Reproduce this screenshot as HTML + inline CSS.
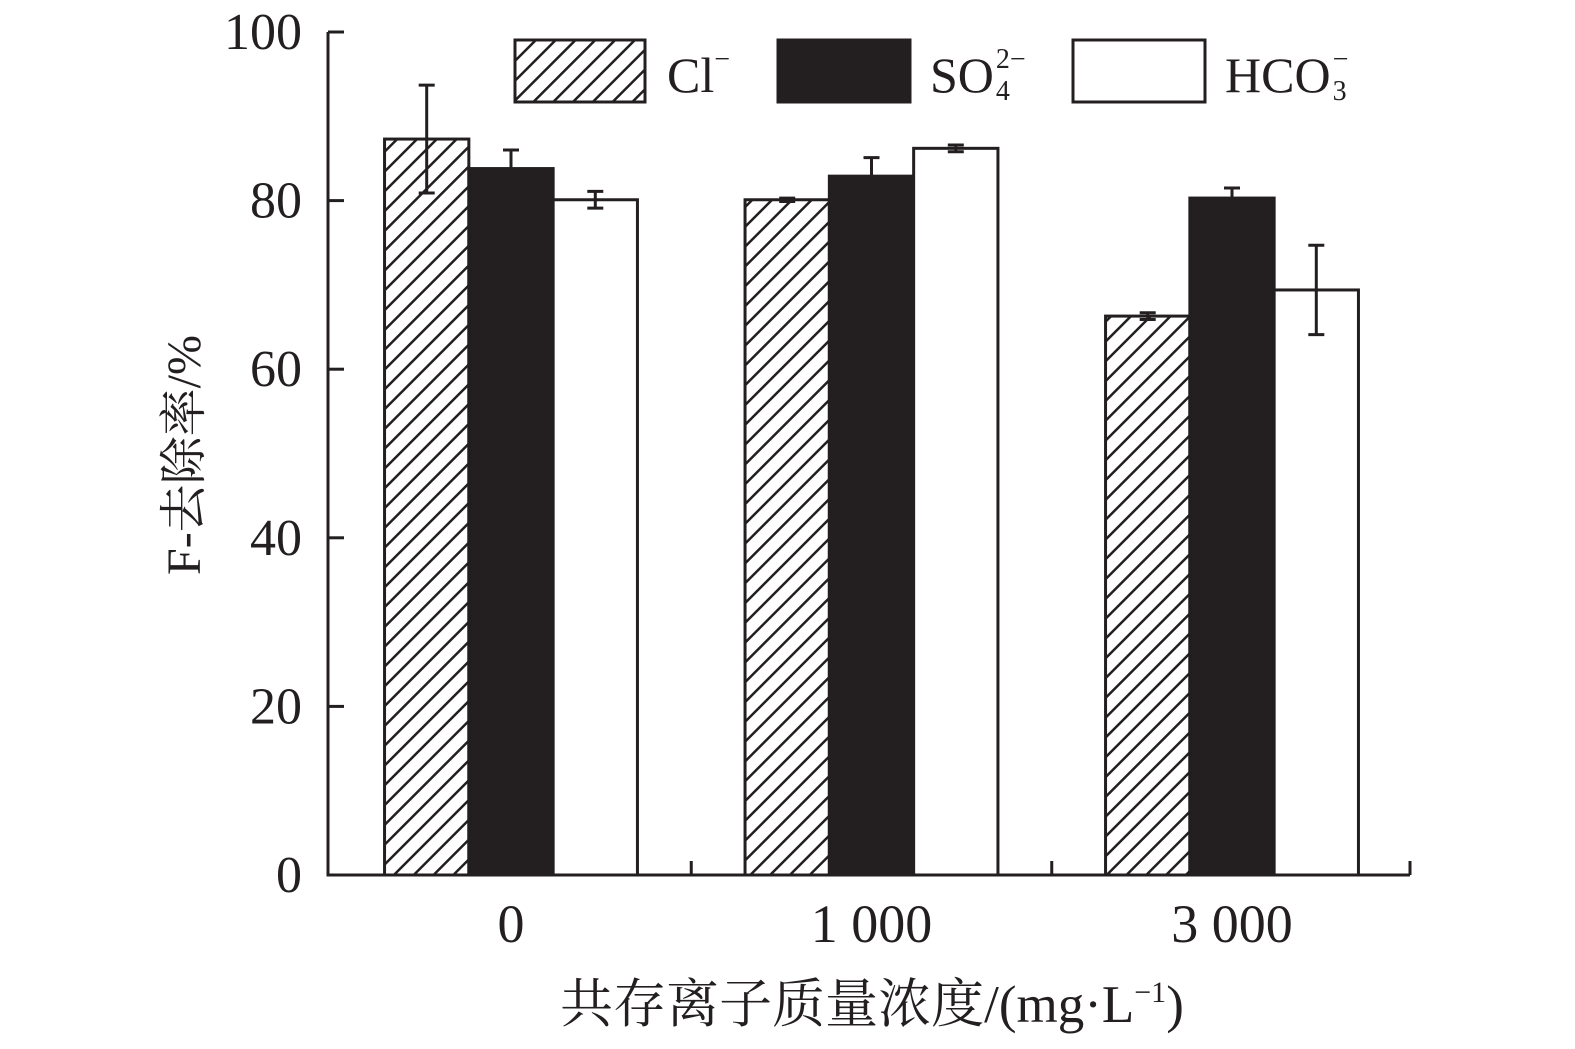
<!DOCTYPE html>
<html><head><meta charset="utf-8"><style>
body{margin:0;background:#fff}
svg text{font-family:"Liberation Serif","Noto Serif CJK SC",serif;fill:#231f20}
</style></head><body>
<svg width="1575" height="1044">
<defs><pattern id="hatch" patternUnits="userSpaceOnUse" width="14" height="14" patternTransform="rotate(45)">
<rect width="14" height="14" fill="#fff"/><line x1="0" y1="0" x2="0" y2="14" stroke="#231f20" stroke-width="5"/></pattern></defs>
<g id="plot"></g>
<g>
<rect x="515" y="40" width="130" height="62" fill="url(#hatch)" stroke="#231f20" stroke-width="3"/>
<text x="667" y="92" font-size="50">Cl<tspan dy="-24" font-size="28">−</tspan></text>
<rect x="778" y="40" width="132" height="62" fill="#231f20" stroke="#231f20" stroke-width="3"/>
<text id="so" x="930" y="92" font-size="50">SO</text>
<text id="so-sup" x="990" y="68" font-size="28">2−</text>
<text id="so-sub" x="990" y="100" font-size="28">4</text>
<rect x="1073" y="40" width="132" height="62" fill="#fff" stroke="#231f20" stroke-width="3"/>
<text id="hco" x="1225" y="92" font-size="50">HCO</text>
<text id="hco-sup" x="1340" y="68" font-size="28">−</text>
<text id="hco-sub" x="1340" y="100" font-size="28">3</text>
</g>
<text x="0" y="0" font-size="48" text-anchor="middle" transform="translate(200,455) rotate(-90)">F-去除率/%</text>
<text x="872" y="1022" font-size="53" text-anchor="middle">共存离子质量浓度/(mg·L<tspan dy="-20" font-size="30">−1</tspan><tspan dy="20">)</tspan></text>
</svg>
<script>
const categories=["0","1 000","3 000"];
const clVals=[87.3,80.1,66.3];
const clErr=[6.4,0.2,0.4];
const so4Vals=[83.8,82.9,80.3];
const so4Err=[2.2,2.2,1.2];
const hco3Vals=[80.1,86.2,69.4];
const hco3Err=[1.0,0.4,5.3];
const yTicks=[0,20,40,60,80,100];
const NS="http://www.w3.org/2000/svg";
const g=document.getElementById("plot");
const x0=328,x1=1410,y0=875,yTop=32;
const yS=v=>y0-(y0-yTop)*v/100;
const gc=i=>511+360.5*i;
const bw=84.3;
function mk(t,a){const e=document.createElementNS(NS,t);for(const k in a)e.setAttribute(k,a[k]);g.appendChild(e);return e;}
const series=[[clVals,clErr,"url(#hatch)","cl"],[so4Vals,so4Err,"#231f20","so4"],[hco3Vals,hco3Err,"#fff","hco3"]];
categories.forEach((c,i)=>{
 series.forEach((s,j)=>{
  const xl=gc(i)-1.5*bw+j*bw, v=s[0][i], e=s[1][i];
  const r=mk("rect",{x:xl,y:yS(v),width:bw,height:y0-yS(v),fill:s[2],stroke:"#231f20","stroke-width":3});
  
  
  const cx=xl+bw/2;
  const eb=mk("path",{d:`M${cx} ${yS(v+e)}V${yS(v-e)}M${cx-8} ${yS(v+e)}H${cx+8}M${cx-8} ${yS(v-e)}H${cx+8}`,stroke:"#231f20","stroke-width":3,fill:"none"});
  
  
 });
 const t=mk("text",{x:gc(i),y:942,"font-size":54,"text-anchor":"middle"});t.textContent=c;
 
 
});
const ax=mk("path",{d:`M${x0} ${yTop}V${y0}H${x1}`,stroke:"#231f20","stroke-width":3,fill:"none"});


[ (gc(0)+gc(1))/2, (gc(1)+gc(2))/2, x1 ].forEach(xx=>{
 const tk=mk("line",{x1:xx,x2:xx,y1:y0,y2:y0-14,stroke:"#231f20","stroke-width":3});
 
 });
yTicks.forEach(v=>{
 const tk=mk("line",{x1:x0,x2:x0+16,y1:yS(v),y2:yS(v),stroke:"#231f20","stroke-width":3});
 
 
 const t=mk("text",{x:302,y:yS(v)+17,"font-size":52,"text-anchor":"end"});t.textContent=v;
 
 
});
[["so","so-sup","so-sub"],["hco","hco-sup","hco-sub"]].forEach(([b,p,q])=>{
 const be=document.getElementById(b);
 const end=parseFloat(be.getAttribute('x'))+be.getComputedTextLength()+2;
 document.getElementById(p).setAttribute('x',end);
 document.getElementById(q).setAttribute('x',end);
});
</script>
</body></html>
